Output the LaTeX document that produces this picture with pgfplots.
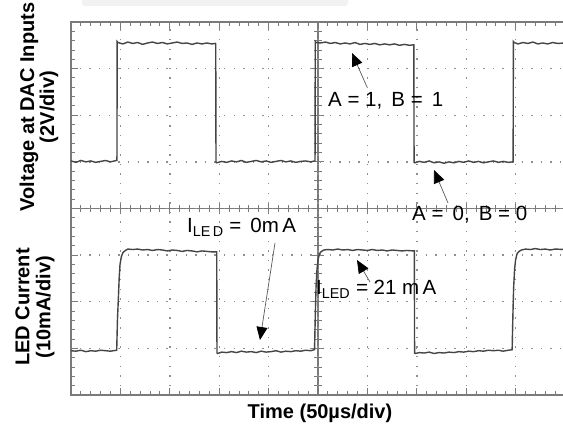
\documentclass[border=0pt]{standalone}
\usepackage{pgfplots}
\pgfplotsset{compat=1.18}
\usepackage{fontspec}
\setmainfont{Liberation Sans}
\usetikzlibrary{arrows.meta}
\definecolor{trace}{HTML}{454545}
\definecolor{frame}{HTML}{7A7A7A}
\definecolor{gridc}{HTML}{8E8E8E}

% traces in divisions: x = 0..10 (50 us/div), y = 0..8
\pgfplotstableread{
x y
0 5.02
0.1 4.99
0.2 5.03
0.3 5.00
0.4 5.02
0.5 4.99
0.6 5.01
0.7 5.03
0.8 5.00
0.92 5.03
0.93 5.03
0.935 7.58
0.95 7.56
1.05 7.53
1.15 7.57
1.25 7.54
1.35 7.56
1.45 7.52
1.55 7.55
1.65 7.57
1.75 7.54
1.85 7.56
1.95 7.53
2.05 7.55
2.15 7.57
2.25 7.54
2.35 7.55
2.45 7.52
2.55 7.55
2.65 7.53
2.75 7.55
2.85 7.53
2.92 7.54
2.93 7.53
2.935 4.99
2.95 4.98
3.05 5.01
3.15 4.99
3.25 5.02
3.35 5.00
3.45 5.03
3.55 4.99
3.65 5.01
3.75 5.03
3.85 5.00
3.95 5.02
4.05 4.99
4.15 5.01
4.25 5.03
4.35 5.00
4.45 5.02
4.55 4.99
4.65 5.01
4.75 5.02
4.85 5.00
4.93 5.02
4.94 5.02
4.945 7.58
4.96 7.56
5.05 7.55
5.15 7.57
5.25 7.54
5.35 7.56
5.45 7.53
5.55 7.55
5.65 7.53
5.75 7.56
5.85 7.52
5.95 7.54
6.05 7.52
6.15 7.54
6.25 7.51
6.35 7.53
6.45 7.51
6.55 7.53
6.65 7.50
6.75 7.52
6.85 7.50
6.93 7.51
6.94 7.51
6.945 4.99
6.96 4.98
7.05 5.01
7.15 4.99
7.25 5.02
7.35 4.98
7.45 5.00
7.55 4.97
7.65 5.00
7.75 4.98
7.85 5.01
7.95 4.99
8.05 5.02
8.15 4.99
8.25 5.01
8.35 4.98
8.45 5.00
8.55 5.02
8.65 4.99
8.75 5.01
8.85 4.99
8.94 5.00
8.95 5.00
8.955 7.58
8.97 7.56
9.05 7.53
9.15 7.56
9.25 7.54
9.35 7.57
9.45 7.53
9.55 7.55
9.65 7.53
9.75 7.56
9.85 7.54
10 7.55
}\dactrace

\pgfplotstableread{
x y
0 0.95
0.1 0.94
0.2 0.96
0.3 0.93
0.4 0.95
0.5 0.94
0.6 0.96
0.7 0.95
0.8 0.94
0.92 0.96
0.925 0.96
0.94 1.60
0.958 2.05
0.975 2.50
0.992 2.80
1.02 2.97
1.05 3.05
1.10 3.10
1.15 3.13
1.25 3.12
1.35 3.13
1.45 3.11
1.55 3.12
1.65 3.10
1.75 3.12
1.85 3.11
1.95 3.09
2.05 3.11
2.15 3.10
2.25 3.08
2.35 3.10
2.45 3.09
2.55 3.07
2.65 3.09
2.75 3.08
2.85 3.07
2.94 3.07
2.95 3.07
2.955 0.90
2.97 0.89
3.05 0.92
3.15 0.91
3.25 0.93
3.35 0.91
3.45 0.94
3.55 0.92
3.65 0.93
3.75 0.91
3.85 0.94
3.95 0.92
4.05 0.93
4.15 0.95
4.25 0.92
4.35 0.94
4.45 0.93
4.55 0.95
4.65 0.94
4.75 0.96
4.85 0.95
4.92 0.97
4.93 0.97
4.945 1.70
4.96 2.30
4.98 2.70
5.00 2.90
5.03 3.03
5.07 3.08
5.12 3.11
5.20 3.12
5.30 3.11
5.40 3.13
5.50 3.11
5.60 3.12
5.70 3.10
5.80 3.12
5.90 3.11
6.00 3.10
6.10 3.12
6.20 3.10
6.30 3.11
6.40 3.09
6.50 3.11
6.60 3.10
6.70 3.09
6.80 3.10
6.94 3.09
6.95 3.09
6.955 0.90
6.97 0.89
7.05 0.91
7.15 0.90
7.25 0.92
7.35 0.89
7.45 0.91
7.55 0.90
7.65 0.92
7.75 0.91
7.85 0.93
7.95 0.92
8.05 0.94
8.15 0.93
8.25 0.95
8.35 0.94
8.45 0.96
8.55 0.95
8.65 0.96
8.75 0.94
8.85 0.96
8.92 0.97
8.93 0.97
8.945 1.70
8.96 2.30
8.98 2.70
9.00 2.90
9.03 3.03
9.07 3.08
9.12 3.11
9.20 3.13
9.30 3.12
9.40 3.14
9.50 3.12
9.60 3.13
9.70 3.11
9.80 3.13
10 3.12
}\ledtrace

\begin{document}
\begin{tikzpicture}
\clip (0,0) rectangle (563pt,429pt);
\fill[white] (0,0) rectangle (563pt,429pt);
\fill[gray!10, rounded corners=3pt] (82pt,423pt) rectangle (348pt,440pt);

% centre cross-hair with graticule ticks
\begin{axis}[
  at={(71pt,34pt)}, anchor=south west, scale only axis,
  width=494pt, height=373pt,
  xmin=-5, xmax=5, ymin=-4, ymax=4,
  axis lines=center,
  axis line style={-, frame, line width=1.1pt},
  xtick={-5,...,5}, ytick={-4,...,4},
  minor x tick num=4, minor y tick num=4,
  xticklabels={}, yticklabels={},
  tick align=center,
  major tick length=12pt, minor tick length=8pt,
  tick style={frame, line width=0.9pt},
]
\end{axis}

\begin{axis}[
  at={(71pt,34pt)}, anchor=south west, scale only axis,
  width=494pt, height=373pt,
  xmin=0, xmax=10, ymin=0, ymax=8,
  axis line style={frame, line width=1.8pt},
  xtick={0,...,10}, ytick={0,...,8},
  minor x tick num=4, minor y tick num=4,
  xticklabels={}, yticklabels={},
  tick align=inside,
  major tick length=7pt, minor tick length=4.5pt,
  tick style={frame, line width=0.9pt},
  xtick pos=both, ytick pos=left,
  grid=major,
  major grid style={gridc, line width=1.4pt, dash pattern=on 1.4pt off 8.2pt, dash phase=0.7pt},
]
\addplot[trace, line width=1.4pt] table[x=x,y=y] {\dactrace};
\addplot[trace, line width=1.4pt] table[x=x,y=y] {\ledtrace};
\end{axis}

% axis titles
\node[rotate=90, align=center, font=\fontsize{20}{20}\selectfont\bfseries] at (39pt,322pt)
  {Voltage at DAC Inputs\\(2V/div)};
\node[rotate=90, align=center, font=\fontsize{20}{21}\selectfont\bfseries] at (35pt,122pt)
  {LED Current\\(10mA/div)};
\node[anchor=base, font=\fontsize{20}{20}\selectfont\bfseries] at (320pt,10pt)
  {Time (50\textmu s/div)};

% annotations
\node[anchor=base west, inner sep=0pt, font=\fontsize{20.5}{21}\selectfont] at (328pt,322pt) {A = 1, \,B = \,1};
\node[anchor=base west, inner sep=0pt, font=\fontsize{20.5}{21}\selectfont] at (412pt,208pt) {A = \,0, \,B = 0};
\node[anchor=base west, inner sep=0pt, font=\fontsize{20.5}{21}\selectfont] at (187pt,196pt) {I\textsubscript{LE\,D} = \,0m\,A};
\node[anchor=base west, inner sep=0pt, font=\fontsize{20.5}{21}\selectfont] at (316pt,134pt) {I\textsubscript{LED} = 21 m\,A};

\tikzset{ann/.style={gray!70!black, line width=0.7pt, -{Triangle[length=13pt,width=11pt,color=black]}}}
\draw[ann] (367pt,342pt) -- (352pt,376pt);
\draw[ann] (448pt,226pt) -- (434pt,259pt);
\draw[ann] (275pt,186pt) -- (260pt,89pt);
\draw[ann] (370pt,147pt) -- (357pt,169pt);
\end{tikzpicture}
\end{document}
